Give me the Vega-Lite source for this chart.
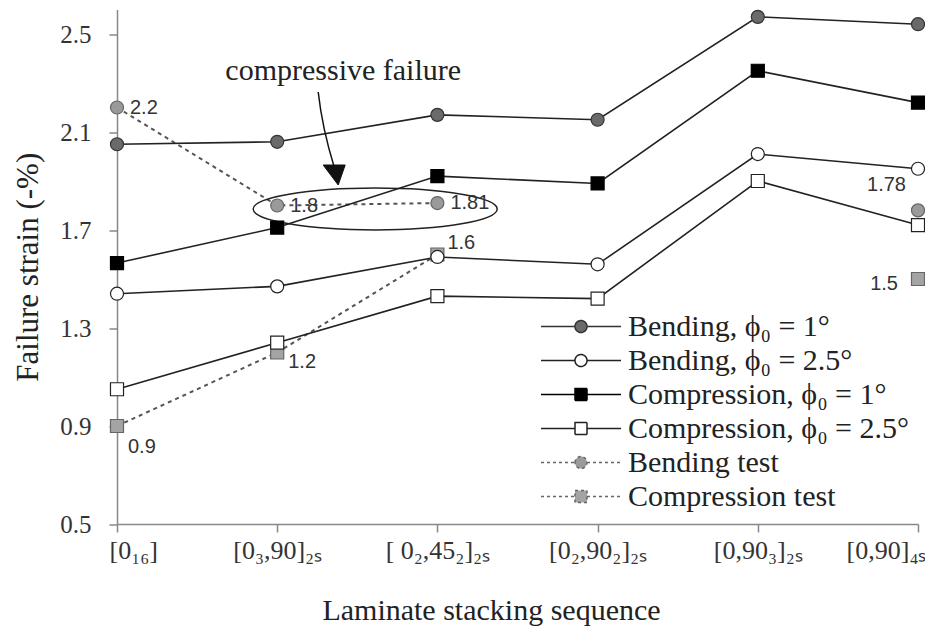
{
  "$schema": "https://vega.github.io/schema/vega-lite/v6.json",
  "width": 801,
  "height": 514.5,
  "autosize": {"type": "none"},
  "padding": {"left": 117, "top": 9.5, "right": 7, "bottom": 106},
  "background": "white",
  "config": {
    "view": {"stroke": null},
    "axis": {"grid": false},
    "legend": {
      "orient": "none",
      "legendX": 419,
      "legendY": 302,
      "padding": 0,
      "symbolSize": 400,
      "symbolStrokeWidth": 1.5,
      "symbolOpacity": 1,
      "labelFont": "Liberation Serif",
      "labelFontSize": 30,
      "labelColor": "#222",
      "labelOffset": 62,
      "labelLimit": 400,
      "rowPadding": 4
    }
  },
  "datasets": {
    "main": [
      {"seq": "[0₁₆]", "series": "Bending, ϕ₀ = 1°", "strain": 2.05},
      {"seq": "[0₃,90]₂ₛ", "series": "Bending, ϕ₀ = 1°", "strain": 2.06},
      {"seq": "[ 0₂,45₂]₂ₛ", "series": "Bending, ϕ₀ = 1°", "strain": 2.17},
      {"seq": "[0₂,90₂]₂ₛ", "series": "Bending, ϕ₀ = 1°", "strain": 2.15},
      {"seq": "[0,90₃]₂ₛ", "series": "Bending, ϕ₀ = 1°", "strain": 2.57},
      {"seq": "[0,90]₄ₛ", "series": "Bending, ϕ₀ = 1°", "strain": 2.54},
      {"seq": "[0₁₆]", "series": "Bending, ϕ₀ = 2.5°", "strain": 1.44},
      {"seq": "[0₃,90]₂ₛ", "series": "Bending, ϕ₀ = 2.5°", "strain": 1.47},
      {"seq": "[ 0₂,45₂]₂ₛ", "series": "Bending, ϕ₀ = 2.5°", "strain": 1.59},
      {"seq": "[0₂,90₂]₂ₛ", "series": "Bending, ϕ₀ = 2.5°", "strain": 1.56},
      {"seq": "[0,90₃]₂ₛ", "series": "Bending, ϕ₀ = 2.5°", "strain": 2.01},
      {"seq": "[0,90]₄ₛ", "series": "Bending, ϕ₀ = 2.5°", "strain": 1.95},
      {"seq": "[0₁₆]", "series": "Compression, ϕ₀ = 1°", "strain": 1.565},
      {"seq": "[0₃,90]₂ₛ", "series": "Compression, ϕ₀ = 1°", "strain": 1.71},
      {"seq": "[ 0₂,45₂]₂ₛ", "series": "Compression, ϕ₀ = 1°", "strain": 1.92},
      {"seq": "[0₂,90₂]₂ₛ", "series": "Compression, ϕ₀ = 1°", "strain": 1.89},
      {"seq": "[0,90₃]₂ₛ", "series": "Compression, ϕ₀ = 1°", "strain": 2.35},
      {"seq": "[0,90]₄ₛ", "series": "Compression, ϕ₀ = 1°", "strain": 2.22},
      {"seq": "[0₁₆]", "series": "Compression, ϕ₀ = 2.5°", "strain": 1.05},
      {"seq": "[0₃,90]₂ₛ", "series": "Compression, ϕ₀ = 2.5°", "strain": 1.24},
      {"seq": "[ 0₂,45₂]₂ₛ", "series": "Compression, ϕ₀ = 2.5°", "strain": 1.43},
      {"seq": "[0₂,90₂]₂ₛ", "series": "Compression, ϕ₀ = 2.5°", "strain": 1.42},
      {"seq": "[0,90₃]₂ₛ", "series": "Compression, ϕ₀ = 2.5°", "strain": 1.9},
      {"seq": "[0,90]₄ₛ", "series": "Compression, ϕ₀ = 2.5°", "strain": 1.72},
      {"seq": "[0₁₆]", "series": "Bending test", "strain": 2.2},
      {"seq": "[0₃,90]₂ₛ", "series": "Bending test", "strain": 1.8},
      {"seq": "[ 0₂,45₂]₂ₛ", "series": "Bending test", "strain": 1.81},
      {"seq": "[0,90]₄ₛ", "series": "Bending test", "strain": 1.78},
      {"seq": "[0₁₆]", "series": "Compression test", "strain": 0.9},
      {"seq": "[0₃,90]₂ₛ", "series": "Compression test", "strain": 1.2},
      {"seq": "[ 0₂,45₂]₂ₛ", "series": "Compression test", "strain": 1.6},
      {"seq": "[0,90]₄ₛ", "series": "Compression test", "strain": 1.5}
    ],
    "ring": [{"seq": "[0₃,90]₂ₛ", "strain": 1.8}],
    "note": [{"seq": "[0₃,90]₂ₛ", "strain": 2.35, "note": "compressive failure"}]
  },
  "data": {"name": "main"},
  "encoding": {
    "x": {
      "field": "seq",
      "type": "ordinal",
      "scale": {"type": "point", "padding": 0, "domain": ["[0₁₆]", "[0₃,90]₂ₛ", "[ 0₂,45₂]₂ₛ", "[0₂,90₂]₂ₛ", "[0,90₃]₂ₛ", "[0,90]₄ₛ"]},
      "axis": {
        "title": "Laminate stacking sequence",
        "labelAngle": 0,
        "labelOverlap": false,
        "labelFont": "Liberation Serif",
        "labelFontSize": 26,
        "labelColor": "#333",
        "labelPadding": 5,
        "labelFlush": true,
        "labelFlushOffset": 8,
        "tickSize": 8,
        "tickColor": "#888",
        "tickWidth": 1.5,
        "domainColor": "#888",
        "domainWidth": 1.5,
        "titleFont": "Liberation Serif",
        "titleFontSize": 30,
        "titleFontWeight": "normal",
        "titleColor": "#222",
        "titlePadding": 32,
        "titleX": 374
      }
    },
    "y": {
      "field": "strain",
      "type": "quantitative",
      "scale": {"domain": [0.5, 2.6], "nice": false, "zero": false},
      "axis": {
        "title": "Failure strain (-%)",
        "values": [0.5, 0.9, 1.3, 1.7, 2.1, 2.5],
        "format": ".1f",
        "labelFont": "Liberation Serif",
        "labelFontSize": 25,
        "labelColor": "#333",
        "labelPadding": 18,
        "tickSize": 8,
        "tickColor": "#888",
        "tickWidth": 1.5,
        "domainColor": "#888",
        "domainWidth": 1.5,
        "titleFont": "Liberation Serif",
        "titleFontSize": 31,
        "titleFontWeight": "normal",
        "titleColor": "#222",
        "titlePadding": 15
      }
    }
  },
  "layer": [
    {
      "transform": [{"filter": "indexof(datum.series, 'test') >= 0 && datum.seq != '[0,90]₄ₛ'"}],
      "mark": {"type": "line", "stroke": "#555", "strokeWidth": 2, "strokeDash": [4, 4]},
      "encoding": {"detail": {"field": "series"}, "order": {"value": null}}
    },
    {
      "transform": [{"filter": "indexof(datum.series, 'test') < 0"}],
      "mark": {"type": "line", "stroke": "#222", "strokeWidth": 1.6},
      "encoding": {"detail": {"field": "series"}, "order": {"value": null}}
    },
    {
      "data": {"name": "ring"},
      "mark": {"type": "point", "shape": "M-2.4,0.35A12.2,2.1 0 1,0 22,0.35A12.2,2.1 0 1,0 -2.4,0.35Z", "size": 400, "filled": false, "stroke": "#222", "strokeWidth": 1.5, "opacity": 1}
    },
    {
      "data": {"name": "ring"},
      "mark": {"type": "point", "shape": "M4.1,-11.35Q4.5,-7.75 5.7,-3.85", "size": 400, "filled": false, "stroke": "#111", "strokeWidth": 1.5, "opacity": 1}
    },
    {
      "data": {"name": "ring"},
      "mark": {"type": "point", "shape": "M4.6,-4.05L6.8,-4.05L6.1,-2.05Z", "size": 400, "filled": true, "fill": "#111", "stroke": "#111", "strokeWidth": 1, "opacity": 1}
    },
    {
      "encoding": {
        "fill": {
          "field": "series",
          "type": "nominal",
          "scale": {"domain": ["Bending, ϕ₀ = 1°", "Bending, ϕ₀ = 2.5°", "Compression, ϕ₀ = 1°", "Compression, ϕ₀ = 2.5°", "Bending test", "Compression test"], "range": ["#6a6a6a", "#ffffff", "#000000", "#ffffff", "#9a9a9a", "#a4a4a4"]},
          "legend": {"title": null}
        },
        "stroke": {
          "field": "series",
          "type": "nominal",
          "scale": {"domain": ["Bending, ϕ₀ = 1°", "Bending, ϕ₀ = 2.5°", "Compression, ϕ₀ = 1°", "Compression, ϕ₀ = 2.5°", "Bending test", "Compression test"], "range": ["#333333", "#222222", "#000000", "#222222", "#666666", "#666666"]},
          "legend": {"title": null}
        }
      },
      "layer": [
        {
          "transform": [{"filter": "false"}],
          "mark": {"type": "point", "filled": true, "size": 400, "strokeWidth": 1.5, "opacity": 1},
          "encoding": {
            "shape": {
              "field": "series",
              "type": "nominal",
              "scale": {
                "domain": ["Bending, ϕ₀ = 1°", "Bending, ϕ₀ = 2.5°", "Compression, ϕ₀ = 1°", "Compression, ϕ₀ = 2.5°", "Bending test", "Compression test"],
                "range": [
                  "M-1,0L2.4,0M3.6,0L7,0M2.4,0A0.6,0.6 0 1,1 3.6,0A0.6,0.6 0 1,1 2.4,0Z",
                  "M-1,0L2.4,0M3.6,0L7,0M2.4,0A0.6,0.6 0 1,1 3.6,0A0.6,0.6 0 1,1 2.4,0Z",
                  "M-1,0L2.4,0M3.6,0L7,0M2.4,-0.6L3.6,-0.6L3.6,0.6L2.4,0.6Z",
                  "M-1,0L2.4,0M3.6,0L7,0M2.4,-0.6L3.6,-0.6L3.6,0.6L2.4,0.6Z",
                  "M-1,0L2.4,0M3.6,0L7,0M2.4,0A0.6,0.6 0 1,1 3.6,0A0.6,0.6 0 1,1 2.4,0Z",
                  "M-1,0L2.4,0M3.6,0L7,0M2.4,-0.6L3.6,-0.6L3.6,0.6L2.4,0.6Z"
                ]
              },
              "legend": {"title": null}
            },
            "strokeDash": {
              "field": "series",
              "type": "nominal",
              "scale": {
                "domain": ["Bending, ϕ₀ = 1°", "Bending, ϕ₀ = 2.5°", "Compression, ϕ₀ = 1°", "Compression, ϕ₀ = 2.5°", "Bending test", "Compression test"],
                "range": [[1, 0], [1, 0], [1, 0], [1, 0], [3, 3], [3, 3]]
              },
              "legend": {"title": null}
            }
          }
        },
        {
          "transform": [{"filter": "indexof(datum.series, 'test') >= 0"}],
          "mark": {"type": "point", "filled": true, "size": 170, "strokeWidth": 1.2, "opacity": 1},
          "encoding": {"shape": {"condition": {"test": "indexof(datum.series, 'Compression') == 0", "value": "square"}, "value": "circle"}}
        },
        {
          "transform": [{"filter": "indexof(datum.series, 'test') < 0"}],
          "mark": {"type": "point", "filled": true, "size": 170, "strokeWidth": 1.2, "opacity": 1},
          "encoding": {"shape": {"condition": {"test": "indexof(datum.series, 'Compression') == 0", "value": "square"}, "value": "circle"}}
        }
      ]
    },
    {
      "transform": [{"filter": "datum.series == 'Bending test' && datum.seq != '[0,90]₄ₛ'"}],
      "mark": {"type": "text", "align": "left", "baseline": "middle", "dx": 13, "dy": 0, "font": "Liberation Sans", "fontSize": 20, "fill": "#333"},
      "encoding": {"text": {"field": "strain", "type": "quantitative", "format": "~g"}}
    },
    {
      "transform": [{"filter": "datum.series == 'Bending test' && datum.seq == '[0,90]₄ₛ'"}],
      "mark": {"type": "text", "align": "right", "baseline": "middle", "dx": -12, "dy": -25, "font": "Liberation Sans", "fontSize": 20, "fill": "#333"},
      "encoding": {"text": {"field": "strain", "type": "quantitative", "format": "~g"}}
    },
    {
      "transform": [{"filter": "datum.series == 'Compression test' && datum.seq == '[0₁₆]'"}],
      "mark": {"type": "text", "align": "left", "baseline": "middle", "dx": 11, "dy": 21, "font": "Liberation Sans", "fontSize": 20, "fill": "#333"},
      "encoding": {"text": {"field": "strain", "type": "quantitative", "format": "~g"}}
    },
    {
      "transform": [{"filter": "datum.series == 'Compression test' && datum.seq == '[0₃,90]₂ₛ'"}],
      "mark": {"type": "text", "align": "left", "baseline": "middle", "dx": 11, "dy": 9, "font": "Liberation Sans", "fontSize": 20, "fill": "#333"},
      "encoding": {"text": {"field": "strain", "type": "quantitative", "format": "~g"}}
    },
    {
      "transform": [{"filter": "datum.series == 'Compression test' && datum.seq == '[ 0₂,45₂]₂ₛ'"}],
      "mark": {"type": "text", "align": "left", "baseline": "middle", "dx": 10, "dy": -12, "font": "Liberation Sans", "fontSize": 20, "fill": "#333"},
      "encoding": {"text": {"field": "strain", "type": "quantitative", "format": "~g"}}
    },
    {
      "transform": [{"filter": "datum.series == 'Compression test' && datum.seq == '[0,90]₄ₛ'"}],
      "mark": {"type": "text", "align": "right", "baseline": "middle", "dx": -20, "dy": 5, "font": "Liberation Sans", "fontSize": 20, "fill": "#333"},
      "encoding": {"text": {"field": "strain", "type": "quantitative", "format": "~g"}}
    },
    {
      "data": {"name": "note"},
      "mark": {"type": "text", "align": "center", "baseline": "middle", "dx": 66, "font": "Liberation Serif", "fontSize": 30, "fill": "#222"},
      "encoding": {"text": {"field": "note", "type": "nominal"}}
    }
  ]
}
